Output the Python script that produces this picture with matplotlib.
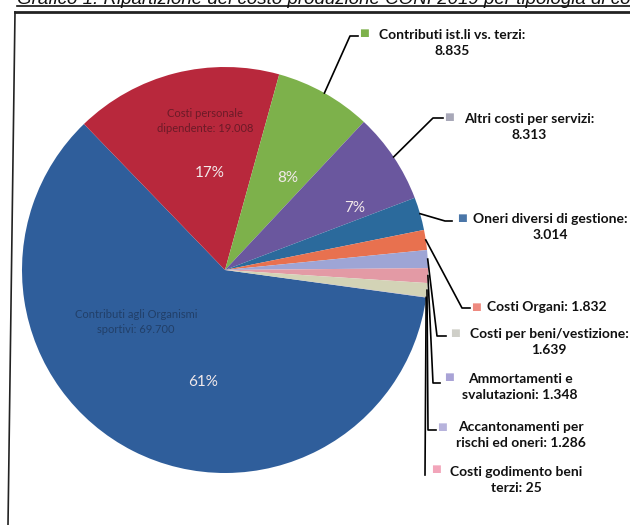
import numpy as np
import matplotlib
matplotlib.use("Agg")
import matplotlib.pyplot as plt
from matplotlib.lines import Line2D

# cost items (thousand euro), in drawing order (clockwise from the blue slice)
categories = [
    "Contributi agli Organismi sportivi",
    "Costi personale dipendente",
    "Contributi ist.li vs. terzi",
    "Altri costi per servizi",
    "Oneri diversi di gestione",
    "Costi Organi",
    "Costi per beni/vestizione",
    "Ammortamenti e svalutazioni",
    "Accantonamenti per rischi ed oneri",
    "Costi godimento beni terzi",
]
values = [69.700, 19.008, 8.835, 8.313, 3.014, 1.832, 1.639, 1.348, 1.286, 0.025]
slice_colors = ["#2f5e9b", "#b8283c", "#7db14b", "#6a579e", "#2b6a9c",
                "#e8714f", "#9ea5d5", "#e39aa5", "#d3d3b6", "#a99ccb"]
marker_colors = ["#2f5e9b", "#b8283c", "#7db14b", "#a8a8b8", "#4a76a8",
                 "#ee8a80", "#cfcfc8", "#a9a3d6", "#b7b3dc", "#f2a5ba"]

# outside labels: index of slice, text
outside_idx = [2, 3, 4, 5, 6, 7, 8, 9]
outside_text = [
    "Contributi ist.li vs. terzi:\n8.835",
    "Altri costi per servizi:\n8.313",
    "Oneri diversi di gestione:\n3.014",
    "Costi Organi: 1.832",
    "Costi per beni/vestizione:\n1.639",
    "Ammortamenti e\nsvalutazioni: 1.348",
    "Accantonamenti per\nrischi ed oneri: 1.286",
    "Costi godimento beni\nterzi: 25",
]
# layout in pixels from top-left: leader elbow, end of short horizontal, marker, text centre
elbow_px = [(350, 36), (433, 118), (445, 221), (462, 308), (437, 336), (433, 383), (428, 430), (425, 475)]
hend_px = [(358, 36), (443, 118), (452, 221), (470, 308), (446, 336), (440, 383), (436, 430), (425, 475)]
marker_px = [(364, 33), (449, 117), (462, 218), (476, 307), (455, 333), (449, 377), (442, 427), (436, 469)]
text_px = [(452, 43), (529, 127), (550, 227), (547, 307), (549, 342), (520, 387), (521, 435), (516, 480)]

inner_text = ["Contributi agli Organismi\nsportivi: 69.700", "Costi personale\ndipendente: 19.008"]
inner_px = [(136, 322), (205, 121)]
inner_colors = ["#1f3a60", "#5e1824"]

pct_labels = ["61%", "17%", "8%", "7%"]
pct_px = [(203, 382), (210, 173), (288, 178), (355, 208)]

W, H = 630, 525


def fig_xy(p):
    return p[0] / W, 1 - p[1] / H


fig = plt.figure(figsize=(6.3, 5.25), dpi=100)

# pie area: centre (225, 270) px, radius 203 px
cx, cy, r = 225, 270, 203
ax = fig.add_axes([(cx - r) / W, (H - cy - r) / H, 2 * r / W, 2 * r / H])
wedges, _ = ax.pie(values, colors=slice_colors, startangle=-7.8, counterclock=False,
                   radius=1, wedgeprops=dict(linewidth=0))
ax.set_xlim(-1, 1)
ax.set_ylim(-1, 1)
ax.set_aspect("auto")
ax.axis("off")

# frame round the chart
fig.add_artist(Line2D([15 / W, 8 / W], [1 - 12 / H, 0], transform=fig.transFigure, color="#222222", lw=1.2))
fig.add_artist(Line2D([15 / W, 1.0], [1 - 12 / H, 1 - 12 / H], transform=fig.transFigure, color="#222222", lw=2.0))

# title, cut by the top edge as in the scan
fig.text(17 / W, 1 - 4 / H, "Grafico 1: Ripartizione del costo produzione CONI 2019 per tipologia di costo",
         fontsize=13.5, style="italic", family="Liberation Sans", va="baseline", ha="left", color="#111111")
fig.add_artist(Line2D([17 / W, 1.0], [1 - 6 / H, 1 - 6 / H], transform=fig.transFigure, color="#111111", lw=1.2))

# percentages inside slices
for lab, p in zip(pct_labels, pct_px):
    x, y = fig_xy(p)
    fig.text(x, y, lab, fontsize=11, family="Lato", color="#f2e9ea", ha="center", va="center")

# blurred category labels inside the two big slices
for lab, p, c in zip(inner_text, inner_px, inner_colors):
    x, y = fig_xy(p)
    fig.text(x, y, lab, fontsize=8, family="Lato", color=c, ha="center", va="center",
             linespacing=1.5, alpha=0.85)

# outside labels with leader lines
for i, lab, e, h, m, t in zip(outside_idx, outside_text, elbow_px, hend_px, marker_px, text_px):
    w = wedges[i]
    mid = np.deg2rad((w.theta1 + w.theta2) / 2)
    sx, sy = ax.transData.transform((np.cos(mid), np.sin(mid)))
    sx, sy = fig.transFigure.inverted().transform((sx, sy))
    ex, ey = fig_xy(e)
    hx, hy = fig_xy(h)
    fig.add_artist(Line2D([sx, ex, hx], [sy, ey, hy], transform=fig.transFigure, color="black", lw=1.2))
    mx, my = fig_xy(m)
    fig.text(mx, my, "\u25A0", fontsize=7.5, color=marker_colors[i], ha="center", va="center")
    tx, ty = fig_xy(t)
    fig.text(tx, ty, lab, fontsize=10, family="Lato", weight="bold", color="#111111",
             ha="center", va="center", linespacing=1.35)

fig.savefig("out.png", dpi=100)
